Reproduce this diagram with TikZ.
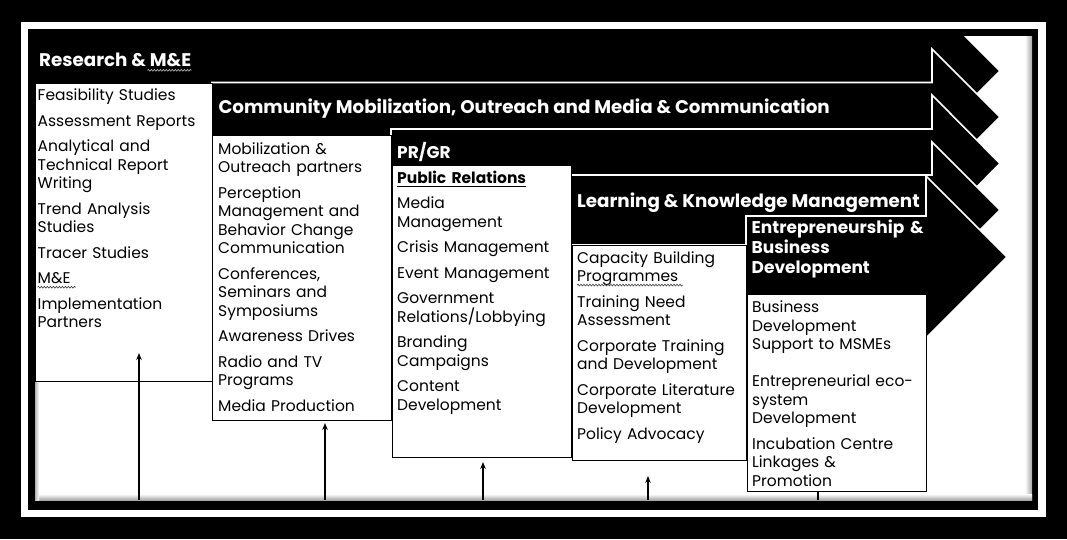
\documentclass[tikz,border=0pt]{standalone}
\usepackage{fontspec}
\setmainfont{Poppins}
\usetikzlibrary{arrows.meta,calc,decorations.pathmorphing}

% text sizes for the list entries and the band titles
\newcommand\lstfont{\fontsize{15.5}{18.5}\selectfont}
\newcommand\ttlfont{\fontsize{18.3}{20.3}\selectfont\bfseries}
\newcommand\ttlsmall{\fontsize{17}{20.3}\selectfont\bfseries}
\newcommand\gap{\\[7pt]}
% heavy underline for the sub-heading
\newcommand\thickul[1]{\setbox0\hbox{#1}\rlap{\rule[-3.8pt]{\wd0}{1.3pt}}\box0}

\begin{document}
\begin{tikzpicture}[x=1pt,y=-1pt,
  band/.style={fill=black,draw=white,line width=1.6pt,line join=miter},
  listbox/.style={fill=white,draw=black,line width=1.4pt,inner sep=0pt,anchor=north west},
  bandtitle/.style={text=white,font=\ttlfont,inner sep=0pt,anchor=base west},
  entries/.style={font=\lstfont,inner sep=0pt,anchor=base west,align=left,text width=#1},
  feed/.style={-{Stealth[length=7pt,width=5.5pt]},line width=1.3pt},
  stub/.style={line width=1.3pt},
  squig/.style={draw=#1,line width=0.6pt,decorate,
    decoration={snake,amplitude=0.9pt,segment length=3pt}}]

% page, framing rule and panel
\fill[black] (0,0) rectangle (1067,539);
\fill[white] (21,22) rectangle (1046,517);
\fill[black] (28,29) rectangle (1038,510);
\fill[white] (35,36) rectangle (1032,500);
\shade[left color=white,right color=black!35] (1025,36) rectangle (1032,500);
\shade[top color=white,bottom color=black!35] (35,494) rectangle (1032,500);
\shade[left color=black!30,right color=white] (35,36) rectangle (39,500);

% rising process bands, each drawn over the one before
\begin{scope}
  \clip (35,36) rectangle (1032,500);
  \path[band] (30,35) -- (932,35) -- (932,3) -- (1000,71) -- (932,139)
    -- (932,107) -- (30,107) -- cycle;
  \path[band] (212,82.5) -- (932,82.5) -- (932,49) -- (1000,117) -- (932,185)
    -- (932,152) -- (212,152) -- cycle;
  \path[band] (391,129) -- (932,129) -- (932,95) -- (1000,163.5) -- (932,232)
    -- (932,198) -- (391,198) -- cycle;
  \path[band] (571,175) -- (932,175) -- (932,142) -- (1000,210) -- (932,278)
    -- (932,245) -- (571,245) -- cycle;
  \path[band] (746,216) -- (926,216) -- (926,176) -- (1007,257) -- (926,338)
    -- (926,298) -- (746,298) -- cycle;
\end{scope}

% feed lines rising from the panel floor
\coordinate (f1) at (139,500);  \coordinate (g1) at (139,353);
\coordinate (f2) at (325,500);  \coordinate (g2) at (325,423);
\coordinate (f3) at (483,500);  \coordinate (g3) at (483,462);
\coordinate (f4) at (648,500);  \coordinate (g4) at (648,476);
\coordinate (f5) at (818,500);  \coordinate (g5) at (818,485);

% list boxes
\node[listbox,minimum width=177pt,minimum height=298pt] (box1) at (35,83) {};
\node[listbox,minimum width=179pt,minimum height=285pt] (box2) at (212,135) {};
\node[listbox,minimum width=179pt,minimum height=292pt] (box3) at (392,165) {};
\node[listbox,minimum width=174pt,minimum height=215pt] (box4) at (572,245) {};
\draw[stub] (f5) -- (g5);
\node[listbox,minimum width=179pt,minimum height=197pt] (box5) at (747,294) {};

\draw[feed] (f1) -- (g1);
\draw[feed] (f2) -- (g2);
\draw[feed] (f3) -- (g3);
\draw[feed] (f4) -- (g4);

% band titles
\node[bandtitle] (t1) at (39,66.7) {Research \& M\&E};
\node[bandtitle] (t2) at (218.3,113.3) {Community Mobilization, Outreach and Media \& Communication};
\node[bandtitle,font=\ttlsmall] (t3) at (397,158.3) {PR/GR};
\node[bandtitle] (t4) at (577,207.3) {Learning \& Knowledge Management};
\node[bandtitle,font=\ttlsmall,align=left,text width=176pt] (t5) at (751.5,233.3)
  {Entrepreneurship \&\\Business\\Development};

% list entries
\node[entries=172pt] (l1) at (37.5,100.7) {Feasibility Studies\gap
Assessment Reports\gap
Analytical and\\Technical Report\\Writing\gap
Trend Analysis\\Studies\gap
Tracer Studies\gap
M\&E\gap
Implementation\\Partners};

\node[entries=172pt] (l2) at (218,154) {Mobilization \&\\Outreach partners\gap
Perception\\Management and\\Behavior Change\\Communication\gap
Conferences,\\Seminars and\\Symposiums\gap
Awareness Drives\gap
Radio and TV\\Programs\gap
Media Production};

\node[entries=172pt] (l3) at (397,183.3) {\thickul{\textbf{Public Relations}}\gap
Media\\Management\gap
Crisis Management\gap
Event Management\gap
Government\\Relations/Lobbying\gap
Branding\\Campaigns\gap
Content\\Development};

\node[entries=172pt] (l4) at (577,263.3) {Capacity Building\\Programmes\gap
Training Need\\Assessment\gap
Corporate Training\\and Development\gap
Corporate Literature\\Development\gap
Policy Advocacy};

\node[entries=172pt] (l5) at (752,312.7) {Business\\Development\\Support to MSMEs\\\mbox{}\\Entrepreneurial eco-\\system\\Development\gap
Incubation Centre\\Linkages \&\\Promotion};

% proofing squiggles under the abbreviations
\draw[squig=black!25] ($(t1.base east)+(-44,3.6)$) -- ($(t1.base east)+(0,3.6)$);
\draw[squig=black!75] ($(l1.base west)+(0,186.5)$) -- ++(38,0);
\draw[squig=black!75] ($(l4.base west)+(0,21.8)$) -- ++(106,0);
\end{tikzpicture}
\end{document}
